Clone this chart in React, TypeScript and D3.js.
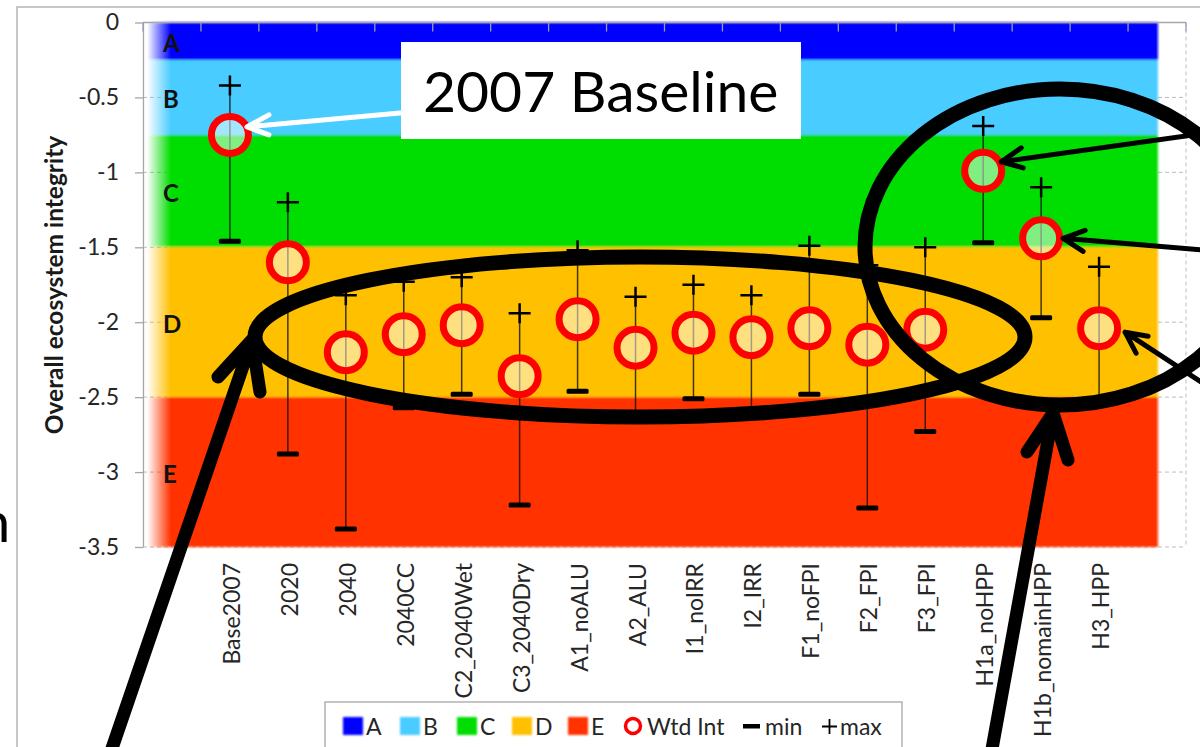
import React, { useRef, useEffect } from "react"
import * as d3 from "d3"

const chart_width = 1200
const chart_height = 747

// scenarios on the category axis
const categories = [
  "Base2007", "2020", "2040", "2040CC", "C2_2040Wet", "C3_2040Dry",
  "A1_noALU", "A2_ALU", "I1_noIRR", "I2_IRR", "F1_noFPI", "F2_FPI",
  "F3_FPI", "H1a_noHPP", "H1b_nomainHPP", "H3_HPP",
]
const wtdInt = [-0.75, -1.6, -2.2, -2.08, -2.02, -2.36, -1.98, -2.17, -2.07, -2.1, -2.04, -2.15, -2.05, -0.99, -1.44, -2.04]
const minVals = [-1.46, -2.88, -3.38, -2.57, -2.48, -3.22, -2.46, -2.63, -2.51, -2.6, -2.48, -3.24, -2.73, -1.47, -1.97, -2.52]
const maxVals = [-0.42, -1.2, -1.82, -1.73, -1.7, -1.94, -1.52, -1.83, -1.75, -1.82, -1.49, -1.62, -1.5, -0.69, -1.1, -1.63]

// integrity classes
const zoneNames = ["A", "B", "C", "D", "E"]
const zoneTop = [0, -0.25, -0.75, -1.5, -2.5]
const zoneBottom = [-0.25, -0.75, -1.5, -2.5, -3.5]
const zoneColors = ["#0000ff", "#48ccff", "#00dd00", "#ffc000", "#ff3300"]

const yTicks = [0, -0.5, -1, -1.5, -2, -2.5, -3, -3.5]
const yTitle = "Overall ecosystem integrity"
const calloutText = "2007 Baseline"

const font = "Lato, 'Open Sans', sans-serif"

const App = () => {
  const d3Container = useRef(null)

  useEffect(() => {
    if (!d3Container.current) return
    const svg = d3.select(d3Container.current)
    svg.selectAll("*").remove()

    const plotLeft = 143
    const plotRight = 1186
    const plotTop = 22.5
    const plotBottom = 547
    const slot = (plotRight - plotLeft) / (categories.length + 2)

    const x = d3.scaleBand().domain(categories).range([plotLeft + slot, plotRight - slot]).padding(0)
    const cx = (i: number) => x(categories[i])! + x.bandwidth() / 2
    const y = d3.scaleLinear().domain([-3.5, 0]).range([plotBottom, plotTop])

    /* defs: soft left edge of the bands, slight blur */
    const defs = svg.append("defs")
    const grad = defs
      .append("linearGradient")
      .attr("id", "bandFade")
      .attr("gradientUnits", "userSpaceOnUse")
      .attr("x1", plotLeft)
      .attr("x2", plotRight)
      .attr("y1", 0)
      .attr("y2", 0)
    const pos = (v: number) => (v - plotLeft) / (plotRight - plotLeft)
    ;[[147, "#000"], [171, "#fff"], [1156, "#fff"], [1160, "#000"]].forEach(s => {
      grad.append("stop").attr("offset", pos(s[0] as number)).attr("stop-color", s[1])
    })
    defs
      .append("mask")
      .attr("id", "bandMask")
      .append("rect")
      .attr("x", 0)
      .attr("y", 0)
      .attr("width", chart_width)
      .attr("height", chart_height)
      .attr("fill", "url(#bandFade)")
    defs.append("filter").attr("id", "soft").append("feGaussianBlur").attr("stdDeviation", 0.9)

    svg.append("rect").attr("width", chart_width).attr("height", chart_height).attr("fill", "#fff")

    // chart frame
    svg
      .append("path")
      .attr("d", `M17,${chart_height} L17,7 L${chart_width},7`)
      .attr("fill", "none")
      .attr("stroke", "#b5b5b5")
      .attr("stroke-width", 1.5)

    // gridlines (mostly hidden by bands)
    svg
      .append("g")
      .selectAll("line")
      .data(yTicks.slice(1))
      .enter()
      .append("line")
      .attr("x1", plotLeft)
      .attr("x2", plotRight)
      .attr("y1", d => y(d))
      .attr("y2", d => y(d))
      .attr("stroke", "#bdbdbd")
      .attr("stroke-dasharray", "4,3")
    svg
      .append("line")
      .attr("x1", plotRight)
      .attr("x2", plotRight)
      .attr("y1", plotTop)
      .attr("y2", plotBottom)
      .attr("stroke", "#bdbdbd")
      .attr("stroke-dasharray", "4,3")

    // class bands
    svg
      .append("g")
      .attr("mask", "url(#bandMask)")
      .append("g")
      .attr("filter", "url(#soft)")
      .selectAll("rect")
      .data(zoneNames)
      .enter()
      .append("rect")
      .attr("x", plotLeft)
      .attr("width", 1160 - plotLeft)
      .attr("y", (d, i) => y(zoneTop[i]))
      .attr("height", (d, i) => y(zoneBottom[i]) - y(zoneTop[i]))
      .attr("fill", (d, i) => zoneColors[i])

    // y axis
    const yAxis = d3
      .axisLeft(y)
      .tickValues(yTicks)
      .tickSize(8)
      .tickSizeOuter(0)
      .tickPadding(16)
      .tickFormat(d => String(d))
    const gy = svg.append("g").attr("transform", `translate(${plotLeft},0)`).call(yAxis)
    gy.select(".domain").attr("stroke", "#a6a6a6").attr("stroke-width", 1.3)
    gy.selectAll(".tick line").attr("stroke", "#a6a6a6").attr("stroke-width", 1.3)
    gy.selectAll(".tick text")
      .attr("font-family", font)
      .attr("font-size", 23)
      .attr("fill", "#262626")

    // top axis line + category ticks
    svg
      .append("line")
      .attr("x1", plotLeft)
      .attr("x2", plotRight)
      .attr("y1", plotTop)
      .attr("y2", plotTop)
      .attr("stroke", "#a6a6a6")
      .attr("stroke-width", 1.3)
    svg
      .append("g")
      .selectAll("line")
      .data(d3.range(categories.length + 3))
      .enter()
      .append("line")
      .attr("x1", k => plotLeft + k * slot)
      .attr("x2", k => plotLeft + k * slot)
      .attr("y1", plotTop)
      .attr("y2", plotTop + 9)
      .attr("stroke", "#9a9ab8")
      .attr("stroke-width", 1.3)

    svg
      .append("text")
      .attr("transform", `translate(63,285) rotate(-90)`)
      .attr("text-anchor", "middle")
      .attr("font-family", font)
      .attr("font-weight", "bold")
      .attr("font-size", 24.5)
      .attr("fill", "#1a1a1a")
      .text(yTitle)

    // band letters
    svg
      .append("g")
      .selectAll("text")
      .data(zoneNames)
      .enter()
      .append("text")
      .attr("x", 163)
      .attr("y", (d, i) => y((zoneTop[i] + zoneBottom[i]) / 2) + 11)
      .attr("font-family", font)
      .attr("font-weight", "bold")
      .attr("font-size", 24)
      .attr("fill", "#111")
      .text(d => d)

    // min/max whiskers and weighted integrity
    const marks = svg.append("g")
    marks
      .selectAll(".whisker")
      .data(categories)
      .enter()
      .append("line")
      .attr("x1", (d, i) => cx(i))
      .attr("x2", (d, i) => cx(i))
      .attr("y1", (d, i) => y(maxVals[i]))
      .attr("y2", (d, i) => y(minVals[i]))
      .attr("stroke", "#111")
      .attr("stroke-opacity", 0.8)
      .attr("stroke-width", 1.5)
    marks
      .selectAll(".minmark")
      .data(categories)
      .enter()
      .append("rect")
      .attr("x", (d, i) => cx(i) - 11)
      .attr("y", (d, i) => y(minVals[i]) - 2.5)
      .attr("width", 22)
      .attr("height", 5)
      .attr("rx", 1.5)
      .attr("fill", "#000")
    marks
      .selectAll(".maxmark")
      .data(categories)
      .enter()
      .append("path")
      .attr("d", (d, i) => {
        const px = cx(i)
        const py = y(maxVals[i])
        return `M${px - 11},${py} H${px + 11} M${px},${py - 10} V${py + 10}`
      })
      .attr("stroke", "#000")
      .attr("stroke-width", 2.5)
    marks
      .selectAll("circle")
      .data(categories)
      .enter()
      .append("circle")
      .attr("cx", (d, i) => cx(i))
      .attr("cy", (d, i) => y(wtdInt[i]))
      .attr("r", 18.5)
      .attr("fill", "#fff")
      .attr("fill-opacity", 0.5)
      .attr("stroke", "#ff0000")
      .attr("stroke-width", 7)

    // category labels
    svg
      .append("g")
      .selectAll("text")
      .data(categories)
      .enter()
      .append("text")
      .attr("transform", (d, i) => `translate(${cx(i) + 10},563) rotate(-90)`)
      .attr("text-anchor", "end")
      .attr("font-family", font)
      .attr("font-size", 23)
      .attr("fill", "#262626")
      .text(d => d)

    // legend
    const lg = svg.append("g")
    lg.append("rect")
      .attr("x", 325)
      .attr("y", 702)
      .attr("width", 577)
      .attr("height", 60)
      .attr("fill", "#fff")
      .attr("stroke", "#a6a6a6")
      .attr("stroke-width", 1.3)
    const swatchX = [343, 400, 457, 512, 568]
    lg.append("g")
      .attr("filter", "url(#soft)")
      .selectAll("rect")
      .data(zoneNames)
      .enter()
      .append("rect")
      .attr("x", (d, i) => swatchX[i])
      .attr("y", 717)
      .attr("width", 20)
      .attr("height", 18)
      .attr("fill", (d, i) => zoneColors[i])
    const legendText = (tx: number, s: string) =>
      lg.append("text")
        .attr("x", tx)
        .attr("y", 735)
        .attr("font-family", font)
        .attr("font-size", 23)
        .attr("fill", "#262626")
        .text(s)
    zoneNames.forEach((d, i) => legendText(swatchX[i] + 23, d))
    lg.append("circle")
      .attr("cx", 633)
      .attr("cy", 726)
      .attr("r", 7.5)
      .attr("fill", "#fff")
      .attr("stroke", "#ff0000")
      .attr("stroke-width", 3.5)
    legendText(647, "Wtd Int")
    lg.append("rect").attr("x", 743).attr("y", 724).attr("width", 17).attr("height", 4.5).attr("fill", "#000")
    legendText(765, "min")
    lg.append("path").attr("d", "M822,726.5 H837 M829.5,719 V734").attr("stroke", "#000").attr("stroke-width", 1.8)
    legendText(840, "max")

    /* slide annotations drawn over the chart */
    const ann = svg.append("g")
    const thick = (d: string, w: number, color = "#000") =>
      ann.append("path")
        .attr("d", d)
        .attr("fill", "none")
        .attr("stroke", color)
        .attr("stroke-width", w)
        .attr("stroke-linecap", "round")
        .attr("stroke-linejoin", "round")

    ann.append("ellipse")
      .attr("cx", 640)
      .attr("cy", 337)
      .attr("rx", 385)
      .attr("ry", 80)
      .attr("fill", "none")
      .attr("stroke", "#000")
      .attr("stroke-width", 15)
    ann.append("ellipse")
      .attr("cx", 1060)
      .attr("cy", 247)
      .attr("rx", 195)
      .attr("ry", 158)
      .attr("fill", "none")
      .attr("stroke", "#000")
      .attr("stroke-width", 15)

    // big arrows from below
    thick("M108,760 L252,340 M218,377 L252,340 L260,392", 13)
    thick("M990,760 L1053,413 M1027,452 L1053,413 L1068,460", 13)

    // arrows from the right edge pointing at the HPP points
    const tip = (i: number, dx: number, dy: number) => [cx(i) + dx, y(wtdInt[i]) + dy]
    const t1 = tip(13, 18, -9)
    const t2 = tip(14, 22, 0)
    const t3 = tip(15, 26, 4)
    thick(`M1215,132 L${t1[0]},${t1[1]} M${t1[0] + 20},${t1[1] - 14} L${t1[0]},${t1[1]} L${t1[0] + 22},${t1[1] + 6}`, 5)
    thick(`M1215,251 L${t2[0]},${t2[1]} M${t2[0] + 22},${t2[1] - 8} L${t2[0]},${t2[1]} L${t2[0] + 20},${t2[1] + 13}`, 5)
    thick(`M1215,391 L${t3[0]},${t3[1]} M${t3[0] + 23},${t3[1] + 4} L${t3[0]},${t3[1]} L${t3[0] + 11},${t3[1] + 21}`, 5)

    // callout box
    ann.append("rect").attr("x", 401).attr("y", 42).attr("width", 400).attr("height", 97).attr("fill", "#fff")
    ann.append("text")
      .attr("x", 423)
      .attr("y", 112)
      .attr("font-family", font)
      .attr("font-size", 57)
      .attr("fill", "#000")
      .text(calloutText)
    const tb = tip(0, 17, -8)
    thick(`M400,113 L${tb[0]},${tb[1]} M${tb[0] + 22},${tb[1] - 12} L${tb[0]},${tb[1]} L${tb[0] + 22},${tb[1] + 8}`, 5, "#fff")

    // cut-off slide text at the left edge
    ann.append("text")
      .attr("x", -21)
      .attr("y", 542)
      .attr("font-family", font)
      .attr("font-size", 56)
      .attr("fill", "#000")
      .text("n")
  }, [d3Container.current])

  return (
    <svg
      ref={d3Container}
      width={chart_width}
      height={chart_height}
      style={{ position: "absolute", left: 0, top: 0 }}
    />
  )
}

export default App
